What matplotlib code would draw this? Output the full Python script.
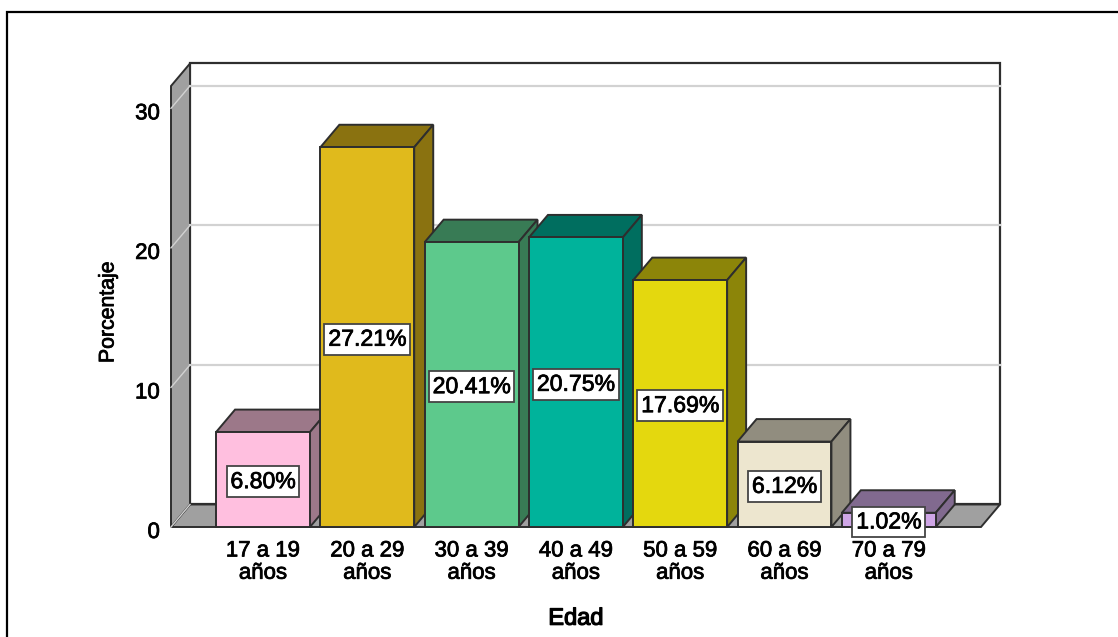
import matplotlib
matplotlib.use('Agg')
import matplotlib.pyplot as plt
import matplotlib.patheffects as pe
from matplotlib.patches import Polygon, Rectangle
from matplotlib.transforms import ScaledTranslation

edades = ['17 a 19\naños', '20 a 29\naños', '30 a 39\naños', '40 a 49\naños', '50 a 59\naños', '60 a 69\naños', '70 a 79\naños']
porcentajes = [6.80, 27.21, 20.41, 20.75, 17.69, 6.12, 1.02]
etiquetas = ['6.80%', '27.21%', '20.41%', '20.75%', '17.69%', '6.12%', '1.02%']
y_ticks = [0, 10, 20, 30]
colores = ['#FFBFDF', '#E0BA1C', '#5DC98C', '#00B39B', '#E4D80E', '#EDE6CF', '#CFA6E6']
colores_osc = ['#9C7889', '#8A7210', '#387B55', '#006E5F', '#8C8509', '#918D7F', '#816A8F']

plt.rcParams['font.family'] = ['Liberation Sans', 'DejaVu Sans']
W, H = 1118, 637
fig = plt.figure(figsize=(W / 100, H / 100), dpi=100)
# marco exterior, solo se ven arriba e izquierda
fig.add_artist(Rectangle((6.5 / W, -0.1), 1.2, 1.1 - 11.5 / H, transform=fig.transFigure,
                         fill=False, ec='black', lw=1.6))
ax = fig.add_axes([171 / W, (H - 527) / H, 810 / W, 441 / H])
ax.set_xlim(-0.882, 6.884)
ax.set_ylim(0, 31.6)
for s in ax.spines.values():
    s.set_visible(False)

# profundidad del efecto 3D en unidades de datos
dx = 19 / 104.3
dy = 22.5 / 13.95
x0, x1 = ax.get_xlim()
y1 = ax.get_ylim()[1]
borde = '#2E2E2E'
gris = '#A0A0A0'
rejilla = '#D2D2D2'
grueso = [pe.withStroke(linewidth=0.55, foreground='black')]


def poly(pts, color, z, lw=1.4, ec=borde):
    ax.add_patch(Polygon(pts, closed=True, fc=color, ec=ec, lw=lw, zorder=z, clip_on=False))


# paredes
poly([(x0 + dx, dy), (x1 + dx, dy), (x1 + dx, y1 + dy), (x0 + dx, y1 + dy)], 'white', 1, lw=1.6)
poly([(x0, 0), (x0 + dx, dy), (x1 + dx, dy), (x1, 0)], gris, 1.1)
poly([(x0, 0), (x0, y1), (x0 + dx, y1 + dy), (x0 + dx, dy)], gris, 1.1)
for t in y_ticks:
    ax.plot([x0, x0 + dx], [t, t + dy], color=rejilla, lw=1, zorder=1.2, clip_on=False)
    if t > 0:
        ax.plot([x0 + dx, x1 + dx], [t + dy, t + dy], color=rejilla, lw=1.6, zorder=1.2, clip_on=False)

ancho = 0.90
for i, v in enumerate(porcentajes):
    z = 2 + i
    izq, der = i - ancho / 2, i + ancho / 2
    poly([(izq, v), (izq + dx, v + dy), (der + dx, v + dy), (der, v)], colores_osc[i], z)
    poly([(der, 0), (der + dx, dy), (der + dx, v + dy), (der, v)], colores_osc[i], z)
    ax.bar(i, v, ancho, color=colores[i], edgecolor=borde, linewidth=1.4, zorder=z + 0.1, clip_on=False)
    ax.annotate(etiquetas[i], (i, v / 2), xytext=(0, -1.5), textcoords='offset points',
                ha='center', va='center', fontsize=16.6, color='black', zorder=20, path_effects=grueso,
                bbox=dict(boxstyle='square,pad=0.17', fc='white', ec='#444444', lw=1.3))

ax.set_xticks(range(len(edades)))
ax.set_xticklabels(edades, fontsize=16, linespacing=1.08, color='black', path_effects=grueso)
ax.set_yticks(y_ticks)
ax.set_yticklabels([str(t) for t in y_ticks], fontsize=16, color='black', path_effects=grueso)
ax.tick_params(axis='both', length=0)
ax.tick_params(axis='x', pad=9.7)
ax.tick_params(axis='y', pad=8)
# bajar un poco los numeros del eje y
for lab in ax.get_yticklabels():
    lab.set_transform(lab.get_transform() + ScaledTranslation(0, -3 / 100, fig.dpi_scale_trans))
ax.set_xlabel('Edad', fontsize=17, fontweight='normal', path_effects=[pe.withStroke(linewidth=0.9, foreground='black')])
ax.xaxis.set_label_coords(0.5, -0.183)
ax.set_ylabel('Porcentaje', fontsize=15.3, path_effects=grueso)
ax.yaxis.set_label_coords(-0.066, 0.487)

fig.savefig('out.png', dpi=100)
